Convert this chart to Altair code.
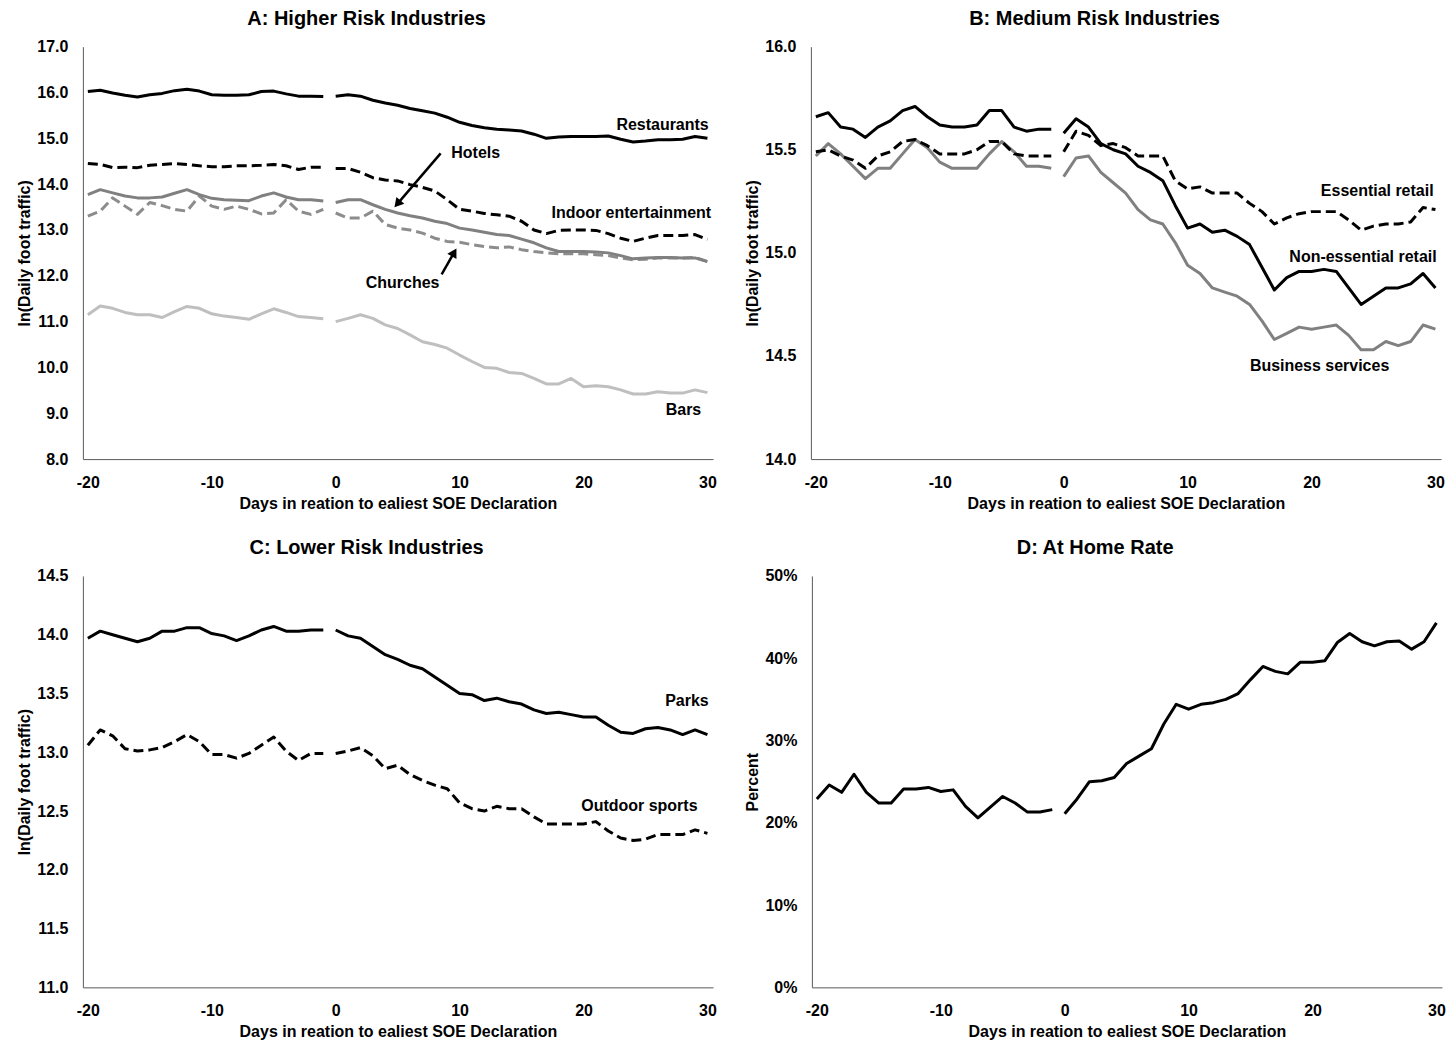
import altair as alt
import pandas as pd

FONT = "Liberation Sans"

# Days relative to the earliest state-of-emergency declaration
DAYS_PRE = list(range(-20, 0))
DAYS_POST = list(range(0, 31))
X_TICKS = [-20, -10, 0, 10, 20, 30]
X_TITLE = "Days in reation to ealiest SOE Declaration"
LN_TITLE = "ln(Daily foot traffic)"

# ---- Panel A: higher risk industries, ln(daily foot traffic) ----
restaurants_pre = [16.02, 16.05, 15.99, 15.94, 15.90, 15.95, 15.98, 16.04, 16.07, 16.03,
                   15.95, 15.94, 15.94, 15.95, 16.02, 16.03, 15.97, 15.92, 15.92, 15.91]
restaurants_post = [15.92, 15.95, 15.92, 15.83, 15.77, 15.72, 15.65, 15.60, 15.55, 15.46,
                    15.35, 15.28, 15.23, 15.20, 15.18, 15.16, 15.09, 15.00, 15.03, 15.04,
                    15.04, 15.04, 15.05, 14.98, 14.92, 14.94, 14.97, 14.97, 14.98, 15.04, 15.00]
indoor_pre = [14.45, 14.43, 14.36, 14.37, 14.36, 14.41, 14.43, 14.45, 14.43, 14.40,
              14.38, 14.38, 14.40, 14.40, 14.41, 14.43, 14.40, 14.32, 14.37, 14.37]
indoor_post = [14.34, 14.34, 14.26, 14.14, 14.09, 14.07, 13.99, 13.93, 13.85, 13.66,
               13.45, 13.41, 13.36, 13.33, 13.30, 13.19, 13.00, 12.92, 12.99, 13.00,
               13.00, 12.99, 12.92, 12.82, 12.75, 12.82, 12.88, 12.88, 12.88, 12.90, 12.79]
hotels_pre = [13.77, 13.88, 13.81, 13.74, 13.70, 13.70, 13.72, 13.80, 13.88, 13.77,
              13.69, 13.66, 13.65, 13.64, 13.74, 13.81, 13.72, 13.66, 13.66, 13.63]
hotels_post = [13.60, 13.66, 13.66, 13.55, 13.45, 13.37, 13.31, 13.26, 13.19, 13.14,
               13.04, 13.00, 12.95, 12.90, 12.88, 12.80, 12.72, 12.61, 12.53, 12.53,
               12.53, 12.52, 12.50, 12.44, 12.37, 12.39, 12.40, 12.40, 12.39, 12.39, 12.31]
churches_pre = [13.30, 13.41, 13.70, 13.52, 13.34, 13.60, 13.53, 13.45, 13.41, 13.74,
                13.52, 13.45, 13.52, 13.45, 13.35, 13.37, 13.66, 13.41, 13.34, 13.45]
churches_post = [13.37, 13.26, 13.26, 13.41, 13.12, 13.04, 13.00, 12.93, 12.82, 12.75,
                 12.73, 12.68, 12.64, 12.61, 12.63, 12.57, 12.53, 12.50, 12.48, 12.48,
                 12.48, 12.46, 12.44, 12.39, 12.35, 12.36, 12.39, 12.39, 12.39, 12.40, 12.31]
bars_pre = [11.15, 11.34, 11.29, 11.20, 11.15, 11.15, 11.09, 11.22, 11.33, 11.29,
            11.17, 11.12, 11.09, 11.05, 11.17, 11.28, 11.20, 11.11, 11.09, 11.06]
bars_post = [11.00, 11.07, 11.15, 11.07, 10.93, 10.85, 10.71, 10.56, 10.50, 10.42,
             10.27, 10.13, 10.00, 9.98, 9.89, 9.87, 9.76, 9.64, 9.64, 9.76,
             9.58, 9.60, 9.58, 9.51, 9.42, 9.42, 9.47, 9.44, 9.44, 9.51, 9.45]

# ---- Panel B: medium risk industries ----
nonessential_pre = [15.66, 15.68, 15.61, 15.60, 15.56, 15.61, 15.64, 15.69, 15.71, 15.66,
                    15.62, 15.61, 15.61, 15.62, 15.69, 15.69, 15.61, 15.59, 15.60, 15.60]
nonessential_post = [15.58, 15.65, 15.61, 15.53, 15.50, 15.48, 15.42, 15.39, 15.35, 15.23,
                     15.12, 15.14, 15.10, 15.11, 15.08, 15.04, 14.93, 14.82, 14.88, 14.91,
                     14.91, 14.92, 14.91, 14.83, 14.75, 14.79, 14.83, 14.83, 14.85, 14.90, 14.83]
essential_pre = [15.49, 15.50, 15.47, 15.45, 15.41, 15.47, 15.49, 15.54, 15.55, 15.52,
                 15.48, 15.48, 15.48, 15.50, 15.54, 15.54, 15.48, 15.47, 15.47, 15.47]
essential_post = [15.49, 15.59, 15.57, 15.52, 15.53, 15.51, 15.47, 15.47, 15.47, 15.35,
                  15.31, 15.32, 15.29, 15.29, 15.29, 15.24, 15.20, 15.14, 15.17, 15.19,
                  15.20, 15.20, 15.20, 15.16, 15.11, 15.13, 15.14, 15.14, 15.15, 15.22, 15.21]
business_pre = [15.47, 15.53, 15.48, 15.42, 15.36, 15.41, 15.41, 15.48, 15.55, 15.51,
                15.44, 15.41, 15.41, 15.41, 15.48, 15.54, 15.49, 15.42, 15.42, 15.41]
business_post = [15.37, 15.46, 15.47, 15.39, 15.34, 15.29, 15.21, 15.16, 15.14, 15.05,
                 14.94, 14.90, 14.83, 14.81, 14.79, 14.75, 14.67, 14.58, 14.61, 14.64,
                 14.63, 14.64, 14.65, 14.60, 14.53, 14.53, 14.57, 14.55, 14.57, 14.65, 14.63]

# ---- Panel C: lower risk industries ----
parks_pre = [13.97, 14.03, 14.00, 13.97, 13.94, 13.97, 14.03, 14.03, 14.06, 14.06,
             14.01, 13.99, 13.95, 13.99, 14.04, 14.07, 14.03, 14.03, 14.04, 14.04]
parks_post = [14.04, 13.99, 13.97, 13.90, 13.83, 13.79, 13.74, 13.71, 13.64, 13.57,
              13.50, 13.49, 13.44, 13.46, 13.43, 13.41, 13.36, 13.33, 13.34, 13.32,
              13.30, 13.30, 13.23, 13.17, 13.16, 13.20, 13.21, 13.19, 13.15, 13.19, 13.15]
outdoor_pre = [13.06, 13.19, 13.14, 13.03, 13.01, 13.02, 13.04, 13.09, 13.15, 13.09,
               12.98, 12.98, 12.95, 12.99, 13.06, 13.13, 13.01, 12.93, 12.99, 12.99]
outdoor_post = [12.99, 13.01, 13.04, 12.97, 12.86, 12.89, 12.81, 12.76, 12.72, 12.69,
                12.57, 12.52, 12.50, 12.54, 12.52, 12.52, 12.45, 12.39, 12.39, 12.39,
                12.39, 12.41, 12.33, 12.27, 12.25, 12.26, 12.30, 12.30, 12.30, 12.34, 12.31]

# ---- Panel D: at-home rate, percent ----
home_pre = [22.9, 24.6, 23.7, 25.9, 23.7, 22.4, 22.4, 24.1, 24.1, 24.3,
            23.8, 24.0, 22.0, 20.6, 21.9, 23.2, 22.4, 21.3, 21.3, 21.6]
home_post = [21.1, 22.9, 25.0, 25.1, 25.5, 27.2, 28.1, 29.0, 32.0, 34.4,
             33.8, 34.4, 34.6, 35.0, 35.7, 37.4, 39.0, 38.4, 38.1, 39.5,
             39.5, 39.7, 41.9, 43.0, 42.0, 41.5, 42.0, 42.1, 41.1, 42.0, 44.3]

BLACK = "#000000"
GRAY = "#808080"
GRAY_DASH = "#8c8c8c"
LIGHT = "#bfbfbf"
DASH = [10, 5]

PLOT_W = 631
X_SCALE = alt.Scale(domain=[-20.4, 30.45], nice=False, zero=False)
# plain hyphen-minus for negative day labels
X_AXIS = alt.Axis(values=X_TICKS, title=X_TITLE, labelExpr="datum.value + ''")


def x_enc(field="day"):
    return alt.X(f"{field}:Q", scale=X_SCALE, axis=X_AXIS)


def y_enc(field, scale, axis):
    return alt.Y(f"{field}:Q", scale=scale, axis=axis)


def series(pre, post, color, y_scale, y_axis, dash=None, factor=1.0):
    df = pd.DataFrame({
        "day": DAYS_PRE + DAYS_POST,
        "value": [v * factor for v in pre + post],
        "seg": ["before"] * len(pre) + ["after"] * len(post),
    })
    mark = dict(color=color, strokeWidth=3, strokeJoin="round")
    if dash:
        mark["strokeDash"] = dash
    return alt.Chart(df).mark_line(**mark).encode(
        x=x_enc(), y=y_enc("value", y_scale, y_axis), detail="seg:N")


def label(text, x, y, align, y_scale, y_axis):
    df = pd.DataFrame({"day": [x], "value": [y], "text": [text]})
    return alt.Chart(df).mark_text(
        font=FONT, fontSize=16, fontWeight="bold", color="black",
        align=align, baseline="middle").encode(
        x=x_enc(), y=y_enc("value", y_scale, y_axis), text="text:N")


def arrow(x0, y0, x1, y1, angle, y_scale, y_axis):
    df = pd.DataFrame({"day": [x0], "value": [y0], "day2": [x1], "value2": [y1]})
    shaft = alt.Chart(df).mark_rule(color="black", strokeWidth=2.5).encode(
        x=x_enc(), y=y_enc("value", y_scale, y_axis), x2="day2:Q", y2="value2:Q")
    head = alt.Chart(df).mark_point(
        shape="triangle-up", filled=True, color="black", opacity=1,
        size=110, angle=angle).encode(
        x=x_enc("day2"), y=y_enc("value2", y_scale, y_axis))
    return shaft + head


def title(text):
    return alt.TitleParams(text=text, font=FONT, fontSize=20, fontWeight="bold",
                           color="black", anchor="middle", frame="bounds", offset=10)


# Panel A
ya = alt.Scale(domain=[8, 17], nice=False, zero=False)
axa = alt.Axis(values=[8, 9, 10, 11, 12, 13, 14, 15, 16, 17], format=".1f", title=LN_TITLE)
panel_a = alt.layer(
    series(bars_pre, bars_post, LIGHT, ya, axa),
    series(churches_pre, churches_post, GRAY_DASH, ya, axa, dash=DASH),
    series(hotels_pre, hotels_post, GRAY, ya, axa),
    series(indoor_pre, indoor_post, BLACK, ya, axa, dash=DASH),
    series(restaurants_pre, restaurants_post, BLACK, ya, axa),
    label("Restaurants", 30.1, 15.30, "right", ya, axa),
    label("Hotels", 11.3, 14.67, "center", ya, axa),
    label("Indoor entertainment", 30.3, 13.36, "right", ya, axa),
    label("Churches", 5.4, 11.84, "center", ya, axa),
    label("Bars", 29.5, 9.07, "right", ya, axa),
    arrow(8.47, 14.67, 4.98, 13.57, 221, ya, axa),
    arrow(8.55, 12.03, 9.56, 12.51, 30, ya, axa),
).properties(width=PLOT_W, height=413, title=title("A: Higher Risk Industries"))

# Panel B
yb = alt.Scale(domain=[14, 16], nice=False, zero=False)
axb = alt.Axis(values=[14, 14.5, 15, 15.5, 16], format=".1f", title=LN_TITLE)
panel_b = alt.layer(
    series(business_pre, business_post, GRAY, yb, axb),
    series(essential_pre, essential_post, BLACK, yb, axb, dash=DASH),
    series(nonessential_pre, nonessential_post, BLACK, yb, axb),
    label("Essential retail", 29.85, 15.30, "right", yb, axb),
    label("Non-essential retail", 30.1, 14.98, "right", yb, axb),
    label("Business services", 20.65, 14.45, "center", yb, axb),
).properties(width=PLOT_W, height=413, title=title("B: Medium Risk Industries"))

# Panel C
yc = alt.Scale(domain=[11, 14.5], nice=False, zero=False)
axc = alt.Axis(values=[11, 11.5, 12, 12.5, 13, 13.5, 14, 14.5], format=".1f", title=LN_TITLE)
panel_c = alt.layer(
    series(outdoor_pre, outdoor_post, BLACK, yc, axc, dash=DASH),
    series(parks_pre, parks_post, BLACK, yc, axc),
    label("Parks", 30.1, 13.44, "right", yc, axc),
    label("Outdoor sports", 29.2, 12.54, "right", yc, axc),
).properties(width=PLOT_W, height=412, title=title("C: Lower Risk Industries"))

# Panel D
yd = alt.Scale(domain=[0, 0.5], nice=False, zero=False)
axd = alt.Axis(values=[0, 0.1, 0.2, 0.3, 0.4, 0.5], format=".0%", title="Percent")
panel_d = alt.layer(
    series(home_pre, home_post, BLACK, yd, axd, factor=0.01),
).properties(width=PLOT_W, height=412, title=title("D: At Home Rate"))

chart = alt.vconcat(
    alt.hconcat(panel_a, panel_b, spacing=27),
    alt.hconcat(panel_c, panel_d, spacing=27),
    spacing=27,
).properties(
    padding={"left": 16, "top": 8, "right": 5, "bottom": 2},
    background="white",
).configure_view(
    stroke=None,
).configure_axis(
    grid=False, ticks=False, domainColor="#595959", domainWidth=1,
    labelFont=FONT, labelFontSize=16, labelFontWeight="bold", labelColor="black",
    labelPadding=15, labelFlush=False, labelOverlap=False,
    titleFont=FONT, titleFontSize=16, titleFontWeight="bold", titleColor="black",
).configure_axisX(
    titlePadding=5,
).configure_axisY(
    titlePadding=4,
)

chart.save("out.html", embed_options={"renderer": "svg", "actions": False})
